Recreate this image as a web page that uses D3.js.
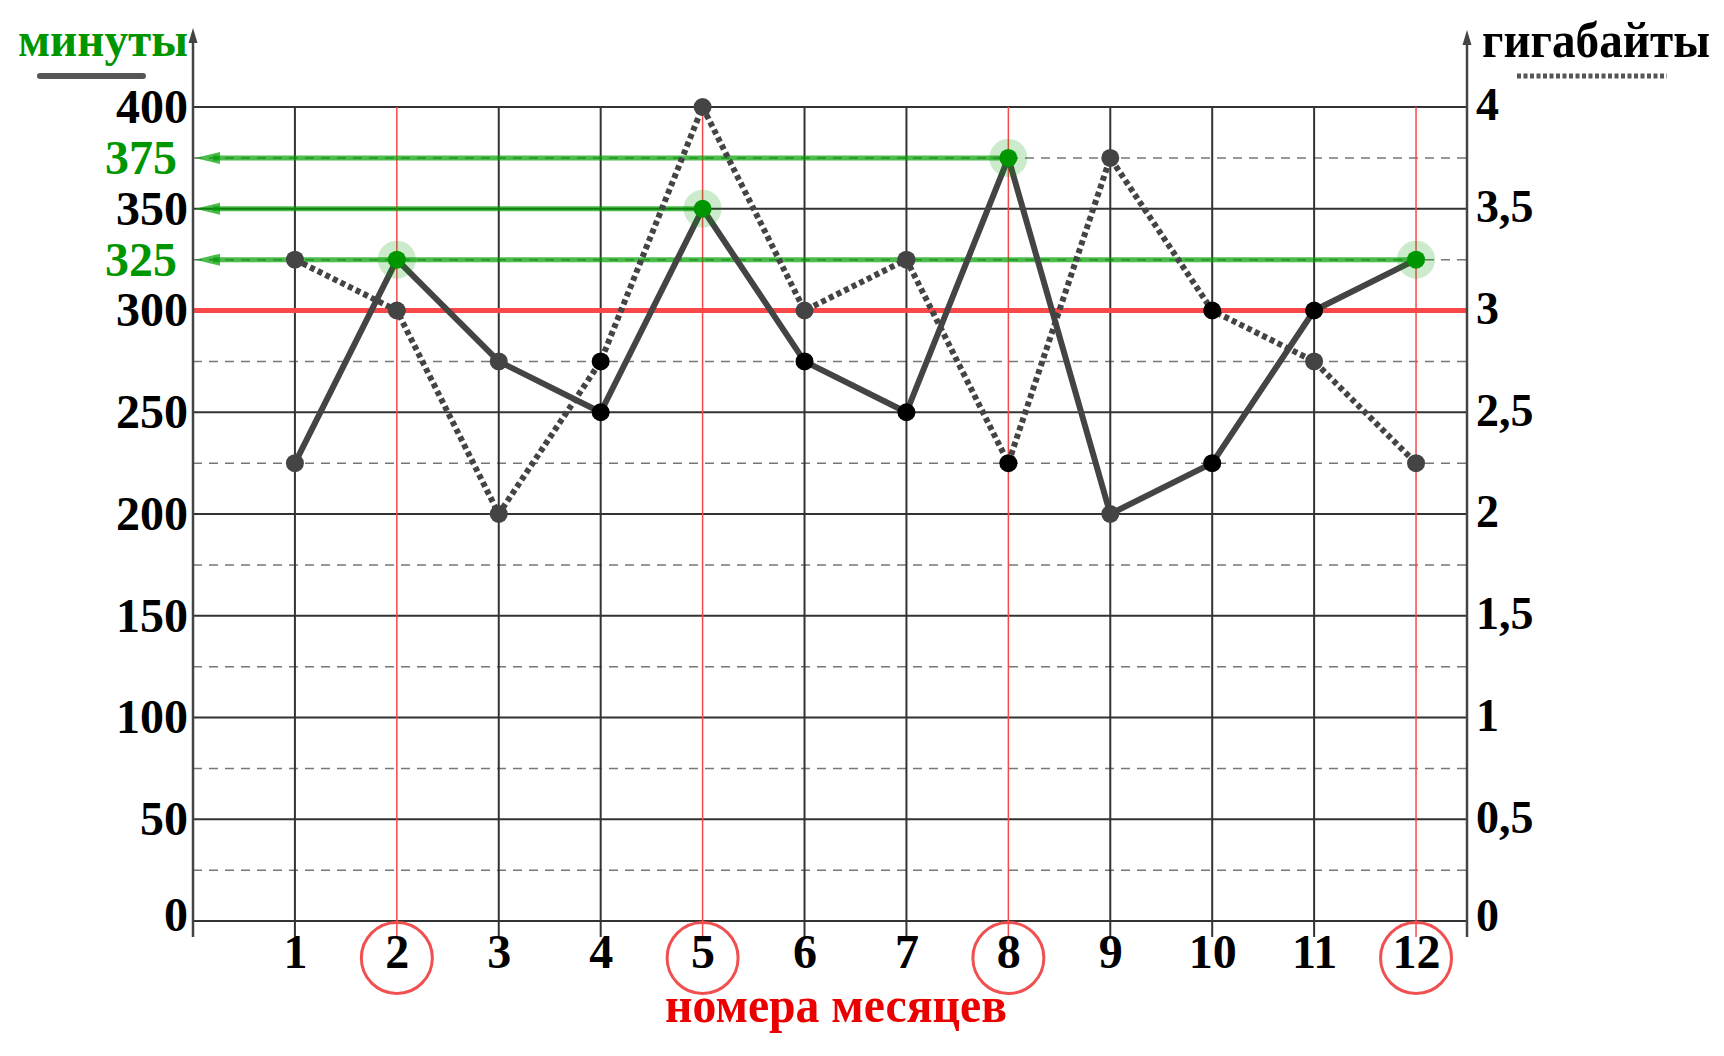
<!DOCTYPE html>
<html>
<head>
<meta charset="utf-8">
<script src="https://cdn.jsdelivr.net/npm/d3@7/dist/d3.min.js"></script>
<style>
  html, body { margin: 0; padding: 0; background: #fff; }
  svg { display: block; }
  text { font-family: "Liberation Serif", "Times New Roman", serif; font-weight: bold; }
</style>
</head>
<body>
<svg id="chart" width="1724" height="1056"></svg>
<script>
// ---------- data ----------
const months = [1, 2, 3, 4, 5, 6, 7, 8, 9, 10, 11, 12];
const minutes = [225, 325, 275, 250, 350, 275, 250, 375, 200, 225, 300, 325];
const gigabytes = [3.25, 3.0, 2.0, 2.75, 4.0, 3.0, 3.25, 2.25, 3.75, 3.0, 2.75, 2.25];
const minutesMarkerTone = ["gray", "green", "gray", "black", "green", "black", "black", "green", "gray", "black", "black", "green"];
const gigabytesMarkerTone = ["gray", "gray", "gray", "black", "gray", "gray", "gray", "black", "gray", "black", "gray", "gray"];
const highlightedMonths = [2, 5, 8, 12];
const minuteLimit = 300;
const leftTickValues = [0, 50, 100, 150, 200, 250, 300, 350, 400];
const leftExtraTicks = [325, 375];
const rightTickValues = [0, 0.5, 1, 1.5, 2, 2.5, 3, 3.5, 4];
const dashedGridValues = [25, 75, 125, 175, 225, 275, 325, 375];
const leftTitle = "минуты";
const rightTitle = "гигабайты";
const xTitle = "номера месяцев";

// ---------- scales ----------
const svg = d3.select("#chart");
const x = d3.scaleLinear().domain([0, 12.5]).range([193, 1467]);
const y = d3.scaleLinear().domain([0, 400]).range([921, 107]);
const y2 = d3.scaleLinear().domain([0, 4]).range([921, 107]);
const xL = x(0), xR = x(12.5), yB = y(0), yT = y(400);

const DARK = "#444";
const RED = "rgb(248,72,72)";
const GREEN = "rgb(0,150,0)";

// ---------- grid ----------
const grid = svg.append("g");
grid.selectAll("line.dash").data(dashedGridValues).join("line")
  .attr("x1", xL).attr("x2", xR).attr("y1", d => y(d)).attr("y2", d => y(d))
  .attr("stroke", "#777").attr("stroke-width", 1.5).attr("stroke-dasharray", "9,7");
grid.selectAll("line.h").data(leftTickValues).join("line")
  .attr("x1", xL).attr("x2", xR).attr("y1", d => y(d)).attr("y2", d => y(d))
  .attr("stroke", "#333").attr("stroke-width", 2);
grid.selectAll("line.v").data(months).join("line")
  .attr("x1", d => x(d)).attr("x2", d => x(d)).attr("y1", yT).attr("y2", yB + 16)
  .attr("stroke", d => highlightedMonths.includes(d) ? RED : "#333")
  .attr("stroke-width", d => highlightedMonths.includes(d) ? 1.5 : 2);

// red limit line
svg.append("line")
  .attr("x1", xL).attr("x2", xR).attr("y1", y(minuteLimit)).attr("y2", y(minuteLimit))
  .attr("stroke", RED).attr("stroke-width", 5);

// axes lines with arrows
function axisLine(xx, tipY) {
  svg.append("line").attr("x1", xx).attr("x2", xx).attr("y1", yB + 16).attr("y2", tipY + 10)
    .attr("stroke", DARK).attr("stroke-width", 2.5);
  svg.append("path")
    .attr("d", `M${xx},${tipY} L${xx - 4.5},${tipY + 15} L${xx + 4.5},${tipY + 15} Z`)
    .attr("fill", DARK);
}
axisLine(xL, 28);
axisLine(xR, 30);

// ---------- green reference arrows ----------
const greenIdx = months.map((m, i) => i).filter(i => minutesMarkerTone[i] === "green");
const arrowRefs = greenIdx.filter(i => !greenIdx.some(j => minutes[j] === minutes[i] && months[j] > months[i]));
const ga = svg.append("g");
ga.selectAll("line").data(arrowRefs).join("line")
  .attr("x1", i => x(months[i])).attr("x2", xL + 20)
  .attr("y1", i => y(minutes[i])).attr("y2", i => y(minutes[i]))
  .attr("stroke", "rgba(0,160,0,0.7)").attr("stroke-width", 5);
ga.selectAll("path").data(arrowRefs).join("path")
  .attr("d", i => { const yy = y(minutes[i]); return `M${xL + 2},${yy} L${xL + 27},${yy - 6} L${xL + 27},${yy + 6} Z`; })
  .attr("fill", "rgba(0,160,0,0.7)");

// ---------- data lines ----------
const lineMin = d3.line().x((d, i) => x(months[i])).y(d => y(d));
const lineGb = d3.line().x((d, i) => x(months[i])).y(d => y2(d));
svg.append("path").attr("d", lineMin(minutes))
  .attr("fill", "none").attr("stroke", DARK).attr("stroke-width", 6).attr("stroke-linejoin", "round");
svg.append("path").attr("d", lineGb(gigabytes))
  .attr("fill", "none").attr("stroke", DARK).attr("stroke-width", 6).attr("stroke-dasharray", "5,3.5");

// ---------- markers ----------
const toneColor = { gray: DARK, black: "#000", green: "rgb(0,150,0)" };
svg.append("g").selectAll("circle").data(gigabytes).join("circle")
  .attr("cx", (d, i) => x(months[i])).attr("cy", d => y2(d)).attr("r", 9)
  .attr("fill", (d, i) => toneColor[gigabytesMarkerTone[i]]);
svg.append("g").selectAll("circle.halo").data(greenIdx).join("circle")
  .attr("cx", i => x(months[i])).attr("cy", i => y(minutes[i])).attr("r", 19)
  .attr("fill", "rgba(0,150,0,0.2)");
svg.append("g").selectAll("circle").data(minutes).join("circle")
  .attr("cx", (d, i) => x(months[i])).attr("cy", d => y(d)).attr("r", 9)
  .attr("fill", (d, i) => toneColor[minutesMarkerTone[i]]);

// ---------- axes labels ----------
const leftAxis = svg.append("g").attr("transform", `translate(${xL},0)`)
  .call(d3.axisLeft(y).tickValues(leftTickValues).tickSize(0).tickPadding(5));
leftAxis.select(".domain").remove();
leftAxis.selectAll("text").attr("font-size", 48).attr("fill", "#000")
  .attr("font-family", "Liberation Serif").attr("font-weight", "bold")
  .attr("dy", d => d === 0 ? "0.2em" : "0.32em");

const leftAxisExtra = svg.append("g").attr("transform", `translate(${xL},0)`)
  .call(d3.axisLeft(y).tickValues(leftExtraTicks).tickSize(0).tickPadding(16));
leftAxisExtra.select(".domain").remove();
leftAxisExtra.selectAll("text").attr("font-size", 48).attr("fill", GREEN)
  .attr("font-family", "Liberation Serif").attr("font-weight", "bold");

const rightAxis = svg.append("g").attr("transform", `translate(${xR},0)`)
  .call(d3.axisRight(y2).tickValues(rightTickValues).tickSize(0).tickPadding(9)
    .tickFormat(d => d3.format(".1~f")(d).replace(".", ",")));
rightAxis.select(".domain").remove();
rightAxis.selectAll("text").attr("font-size", 46).attr("fill", "#000")
  .attr("font-family", "Liberation Serif").attr("font-weight", "bold")
  .attr("dy", d => d === 0 ? "0.2em" : "0.28em");

const bottomAxis = svg.append("g").attr("transform", `translate(0,${yB})`)
  .call(d3.axisBottom(x).tickValues(months).tickSize(0).tickPadding(13).tickFormat(d3.format("d")));
bottomAxis.select(".domain").remove();
bottomAxis.selectAll("text").attr("font-size", 48).attr("fill", "#000")
  .attr("font-family", "Liberation Serif").attr("font-weight", "bold");

// red circles around highlighted months
svg.append("g").selectAll("circle").data(highlightedMonths).join("circle")
  .attr("cx", d => x(d)).attr("cy", yB + 37).attr("r", 35.5)
  .attr("fill", "none").attr("stroke", "rgb(240,80,80)").attr("stroke-width", 3);

// ---------- titles & legend ----------
svg.append("text").attr("x", 18).attr("y", 56).text(leftTitle)
  .attr("font-size", 48).attr("fill", GREEN)
  .attr("textLength", 170).attr("lengthAdjust", "spacingAndGlyphs");
svg.append("line").attr("x1", 40).attr("x2", 143).attr("y1", 76).attr("y2", 76)
  .attr("stroke", "#555").attr("stroke-width", 6).attr("stroke-linecap", "round");

svg.append("text").attr("x", 1482).attr("y", 57).text(rightTitle)
  .attr("font-size", 50).attr("fill", "#000")
  .attr("textLength", 228).attr("lengthAdjust", "spacingAndGlyphs");
svg.append("line").attr("x1", 1517).attr("x2", 1667).attr("y1", 76).attr("y2", 76)
  .attr("stroke", "#555").attr("stroke-width", 5).attr("stroke-dasharray", "4,2.5");

svg.append("text").attr("x", 665).attr("y", 1022).text(xTitle)
  .attr("font-size", 51).attr("fill", "rgb(235,0,0)")
  .attr("textLength", 342).attr("lengthAdjust", "spacingAndGlyphs");
</script>
</body>
</html>
